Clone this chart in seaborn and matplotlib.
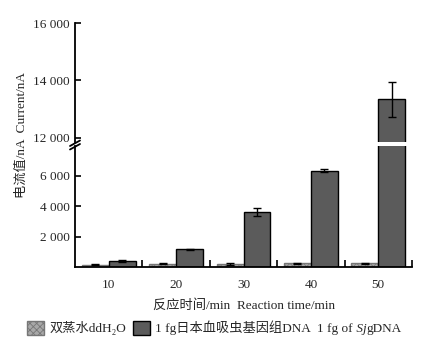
import matplotlib
matplotlib.use("Agg")
import matplotlib.pyplot as plt
import matplotlib.lines as mlines
import matplotlib.patches as mpatches
import seaborn as sns
import pandas as pd
import numpy as np

# ---- data ----
times = ["10", "20", "30", "40", "50"]
water_vals = [150, 220, 200, 230, 240]
water_err = [30, 30, 40, 40, 40]
dna_vals = [400, 1160, 3630, 6330, 13340]
dna_err = [60, 40, 250, 90, 610]
group_names = ["双蒸水ddH₂O", "1 fg日本血吸虫基因组DNA  1 fg of SjgDNA"]
legend_base = ["双蒸水ddH₂O", "1 fg日本血吸虫基因组DNA  1 fg of"]
upper_ticks = [12000, 14000, 16000]
lower_ticks = [2000, 4000, 6000]

sns.set_theme(style="white")
FAM = ["Liberation Serif", "Noto Sans CJK SC", "DejaVu Sans"]
plt.rcParams["font.family"] = FAM
plt.rcParams["hatch.linewidth"] = 0.6

df = pd.DataFrame({
    "time": times * 2,
    "value": water_vals + dna_vals,
    "err": water_err + dna_err,
    "group": [group_names[0]] * 5 + [group_names[1]] * 5,
})

W, H = 437, 346
fig = plt.figure(figsize=(W / 100, H / 100), dpi=100)
L, R = 75 / W, 412 / W
ax_up = fig.add_axes([L, (H - 142) / H, R - L, (142 - 23) / H])
ax_lo = fig.add_axes([L, (H - 267) / H, R - L, (267 - 146) / H])

water_color = "#a8a8a8"
water_edge = "#777777"
dna_color = "#5b5b5b"
fs = 9.5

for ax in (ax_up, ax_lo):
    sns.barplot(data=df, x="time", y="value", hue="group", hue_order=group_names,
                palette=[water_color, dna_color], errorbar=None, width=0.8,
                edgecolor="black", linewidth=1.0, legend=False, ax=ax)
    for ci, (cont, errs) in enumerate(zip(ax.containers, [water_err, dna_err])):
        xs = [b.get_x() + b.get_width() / 2 for b in cont]
        ys = [b.get_height() for b in cont]
        if ci == 0:
            for b in cont:
                b.set_hatch("xxxxx")
                b.set_edgecolor(water_edge)
        ax.errorbar(xs, ys, yerr=errs, fmt="none", ecolor="black",
                    elinewidth=1.0, capsize=3, capthick=1.0, zorder=5)
    ax.set_xlim(-0.5, 4.5)
    ax.set_xlabel("")
    ax.set_ylabel("")
    ax.set_facecolor("white")
    for s in ("top", "right"):
        ax.spines[s].set_visible(False)
    ax.spines["left"].set_color("black")
    ax.spines["left"].set_linewidth(1.3)
    ax.tick_params(axis="y", direction="in", length=4, width=1.2, color="black",
                   labelsize=fs, pad=4, left=True)

fmt = lambda v: f"{v:,}".replace(",", " ")

ax_up.set_ylim(11860, 16000)
ax_up.set_yticks(upper_ticks)
ax_up.set_yticklabels([fmt(v) for v in upper_ticks])
ax_up.spines["bottom"].set_visible(False)
ax_up.tick_params(axis="x", bottom=False, labelbottom=False)

ax_lo.set_ylim(0, 7950)
ax_lo.set_yticks(lower_ticks)
ax_lo.set_yticklabels([fmt(v) for v in lower_ticks])
ax_lo.spines["bottom"].set_color("black")
ax_lo.spines["bottom"].set_linewidth(1.3)
ax_lo.set_xticks(range(len(times)))
ax_lo.set_xticklabels(times)
ax_lo.set_xticks([0.5, 1.5, 2.5, 3.5, 4.5], minor=True)
ax_lo.tick_params(axis="x", which="major", length=0, labelsize=fs, pad=9, bottom=True)
ax_lo.tick_params(axis="x", which="minor", direction="in", length=5, width=1.2,
                  color="black", bottom=True)

# break marks on y axis
def px(x, y):
    return (x / W, (H - y) / H)
for (x0, y0, x1, y1) in [(70, 146, 80, 140.5), (70, 149.5, 80, 144)]:
    (fx0, fy0), (fx1, fy1) = px(x0, y0), px(x1, y1)
    fig.add_artist(mlines.Line2D([fx0, fx1], [fy0, fy1], color="black", lw=1.3))

fig.text(22 / W, (H - 135) / H, "电流值/nA  Current/nA", rotation=90,
         ha="center", va="center", fontsize=fs)
fig.text(244 / W, (H - 305) / H, "反应时间/min  Reaction time/min",
         ha="center", va="center", fontsize=fs)

handles = [
    mpatches.Patch(facecolor=water_color, edgecolor=water_edge, hatch="xxxxx", lw=1.0),
    mpatches.Patch(facecolor=dna_color, edgecolor="black", lw=1.0),
]
leg = fig.legend(handles, legend_base, loc="center left",
                 bbox_to_anchor=(27 / W, (H - 328) / H),
                 ncol=2, frameon=False, fontsize=fs, handlelength=1.3, handleheight=1.35,
                 handletextpad=0.4, columnspacing=0.5, borderpad=0, borderaxespad=0)

# append italic "Sj" + "gDNA" after the second legend label
fig.canvas.draw()
renderer = fig.canvas.get_renderer()
bb = leg.get_texts()[1].get_window_extent(renderer)
inv = fig.transFigure.inverted()
x_end, y_bot = inv.transform((bb.x1, bb.y0))
t1 = fig.text(x_end, y_bot, " Sj", fontsize=fs, style="italic", family=FAM,
              ha="left", va="bottom")
fig.canvas.draw()
bb1 = t1.get_window_extent(renderer)
x2, _ = inv.transform((bb1.x1, bb1.y0))
fig.text(x2, y_bot, "gDNA", fontsize=fs, family=FAM, ha="left", va="bottom")

fig.savefig("out.png", dpi=100, facecolor="white")
